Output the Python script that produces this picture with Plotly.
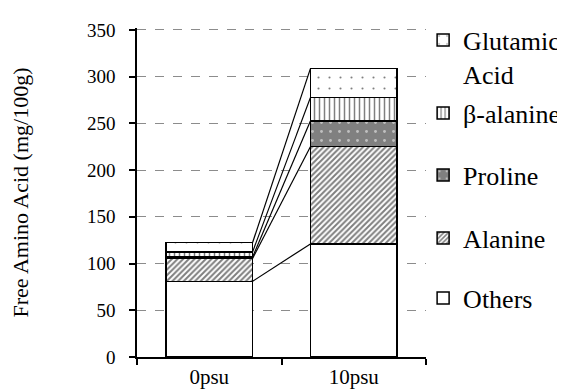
import plotly.graph_objects as go

categories = ["0psu", "10psu"]
others = [81, 121]
alanine = [24.5, 104]
proline = [1.5, 27.5]
beta_alanine = [5.5, 25]
glutamic = [10, 31]
y_ticks = [0, 50, 100, 150, 200, 250, 300, 350]

series = [
    ("Others", others, dict(color="white")),
    ("Alanine", alanine, dict(color="white", pattern=dict(shape="/", fgcolor="black", bgcolor="white", size=4, solidity=0.5))),
    ("Proline", proline, dict(color="#808080", pattern=dict(shape=".", fgcolor="white", bgcolor="#808080", size=9, solidity=0.08))),
    ("β-alanine", beta_alanine, dict(color="white", pattern=dict(shape="|", fgcolor="black", bgcolor="white", size=5, solidity=0.3))),
    ("Glutamic<br>Acid", glutamic, dict(color="white", pattern=dict(shape=".", fgcolor="black", bgcolor="white", size=11, solidity=0.03))),
]

FONT = "Liberation Serif"
BAR_W = 0.6
fig = go.Figure()
# vertical centre (px from top) of each legend entry's first line
legend_px = {"Glutamic<br>Acid": 42, "β-alanine": 115, "Proline": 177, "Alanine": 240, "Others": 300}
PLOT_TOP, PLOT_BOT = 20, 349
LEG_FONT = 26

for i, (name, vals, marker) in enumerate(series):
    lg = "legend" if i == 0 else f"legend{i+1}"
    marker = dict(marker)
    marker["line"] = dict(color="black", width=1.5)
    fig.add_trace(go.Bar(name=name, x=categories, y=vals, marker=marker, width=BAR_W, legend=lg))
    top_px = legend_px[name] - 33.5
    ypos = (PLOT_BOT - top_px) / (PLOT_BOT - PLOT_TOP)
    fig.update_layout({lg: dict(x=0.99, xanchor="left", y=ypos, yanchor="top",
                                valign="top", bgcolor="rgba(0,0,0,0)", visible=True,
                                font=dict(family=FONT, size=LEG_FONT, color="black"))})

# connector lines between stack boundaries
cum0, cum1 = 0, 0
for name, vals, _ in series:
    cum0 += vals[0]
    cum1 += vals[1]
    fig.add_shape(type="line", xref="x", yref="y", x0=0 + BAR_W / 2, x1=1 - BAR_W / 2,
                  y0=cum0, y1=cum1, line=dict(color="black", width=1.2), layer="above")

fig.update_layout(
    width=565, height=390, barmode="stack", showlegend=True,
    margin=dict(l=129, r=147, t=PLOT_TOP, b=41, autoexpand=False),
    plot_bgcolor="white", paper_bgcolor="white",
    font=dict(family=FONT, size=19, color="black"),
)
fig.update_xaxes(showline=True, linecolor="black", linewidth=1.5, ticks="outside", tickson="boundaries",
                 ticklen=6, tickcolor="black", tickwidth=1.5, showgrid=False,
                 tickfont=dict(family=FONT, size=21))
fig.update_yaxes(range=[0, 352], tickvals=y_ticks, showline=True, linecolor="black", linewidth=1.5,
                 ticks="outside", ticklen=6, tickcolor="black", tickwidth=1.5, ticklabelstandoff=10,
                 showgrid=True, gridcolor="#8c8c8c", griddash="dash", gridwidth=1, zeroline=False,
                 title=dict(text="Free Amino Acid (mg/100g)", font=dict(family=FONT, size=22), standoff=52),
                 tickfont=dict(family=FONT, size=19))

fig.write_html("out.html")
